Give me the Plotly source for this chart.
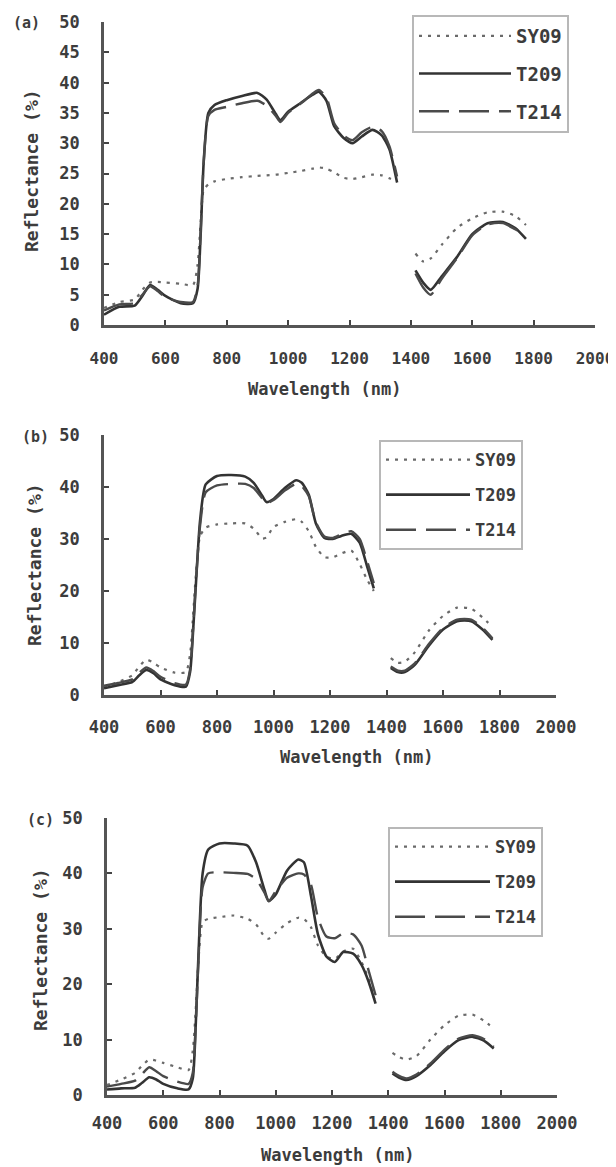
import plotly.graph_objects as go

# ---------------- data ----------------
WL_VNIR = [400, 450, 500, 525, 550, 575, 600, 650, 690, 705, 715, 725, 740, 760, 800, 850,
           900, 930, 960, 975, 1000, 1040, 1080, 1100, 1125, 1150, 1180, 1210, 1240, 1275,
           1305, 1330, 1355]
WL_SWIR = [1415, 1440, 1465, 1500, 1550, 1600, 1650, 1700, 1740, 1775]

SERIES = ["SY09", "T209", "T214"]

# panel (a)
SY09_A_VNIR = [2.8, 3.8, 4.2, 5.8, 7.0, 7.1, 7.0, 6.8, 6.6, 10.0, 17.0, 22.3, 23.2, 23.7, 24.1, 24.4,
               24.6, 24.7, 24.8, 24.9, 25.1, 25.4, 25.8, 26.0, 25.8, 25.2, 24.3, 24.1, 24.4, 24.8,
               24.7, 24.2, 23.6]
T209_A_VNIR = [1.7, 3.0, 3.2, 4.8, 6.6, 5.8, 4.8, 3.6, 3.6, 6.0, 15.0, 27.0, 35.0, 36.3, 37.1, 37.8,
               38.3, 37.2, 34.8, 33.8, 35.2, 36.6, 38.0, 38.5, 37.0, 32.8, 30.9, 30.0, 31.1, 32.2,
               31.3, 29.0, 23.5]
T214_A_VNIR = [2.4, 3.4, 3.6, 5.0, 6.4, 5.6, 4.6, 3.8, 3.8, 6.5, 15.5, 27.0, 34.5, 35.5, 36.0, 36.6,
               37.0, 36.2, 34.5, 33.5, 35.0, 36.5, 38.2, 38.8, 37.5, 33.3, 31.3, 30.5, 31.8, 32.7,
               32.0, 29.5, 24.5]
SY09_A_SWIR = [11.8, 10.5, 11.0, 13.2, 16.0, 17.6, 18.6, 18.7, 18.0, 16.5]
T209_A_SWIR = [9.0, 7.0, 5.8, 8.0, 11.2, 15.0, 16.8, 17.0, 16.0, 14.2]
T214_A_SWIR = [8.5, 6.2, 5.0, 7.6, 11.0, 14.8, 16.6, 16.8, 15.8, 14.8]

# panel (b)
SY09_B_VNIR = [1.5, 2.5, 3.8, 5.5, 6.8, 6.2, 5.3, 4.3, 4.4, 8.0, 15.0, 23.0, 30.5, 32.2, 32.8, 33.0,
               33.0, 32.0, 30.1, 30.3, 32.3, 33.3, 33.8, 33.3, 31.5, 28.5, 26.5, 26.5, 27.2, 27.8,
               25.2, 22.3, 20.0]
T209_B_VNIR = [1.3, 1.9, 2.5, 3.8, 4.8, 4.2, 3.0, 1.9, 1.6, 4.5, 12.0, 21.0, 33.5, 40.5, 42.1, 42.3,
               42.0, 40.8, 38.3, 37.1, 37.7, 39.8, 41.3, 40.8, 38.5, 33.0, 30.2, 30.0, 30.6, 31.0,
               29.3, 25.0, 20.5]
T214_B_VNIR = [1.8, 2.3, 3.0, 4.3, 5.3, 4.6, 3.5, 2.3, 2.0, 5.0, 12.5, 21.5, 32.5, 39.0, 40.3, 40.6,
               40.6, 39.8, 37.8, 36.9, 37.5, 39.3, 40.6, 40.2, 38.2, 33.2, 30.5, 30.2, 30.9, 31.5,
               30.0, 26.0, 21.5]
SY09_B_SWIR = [7.1, 6.2, 6.4, 8.2, 12.4, 15.2, 16.8, 16.6, 14.9, 13.1]
T209_B_SWIR = [5.2, 4.4, 4.4, 5.8, 9.5, 12.6, 14.2, 14.2, 12.6, 10.6]
T214_B_SWIR = [5.5, 4.7, 4.7, 6.1, 9.8, 12.9, 14.5, 14.5, 12.9, 10.9]

# panel (c)
SY09_C_VNIR = [1.8, 2.8, 4.0, 5.3, 6.4, 6.2, 5.8, 5.0, 4.5, 8.0, 15.0, 24.0, 31.2, 31.8, 32.1, 32.4,
               31.8, 30.8, 28.6, 28.2, 29.3, 31.0, 32.0, 31.8, 30.3, 27.0, 25.0, 24.6, 25.9, 26.4,
               24.0, 21.0, 16.5]
T209_C_VNIR = [1.0, 1.2, 1.3, 2.2, 3.2, 2.8, 2.0, 1.2, 1.0, 3.0, 12.0, 25.0, 40.0, 44.3, 45.4, 45.4,
               45.0, 42.0, 37.0, 35.0, 36.2, 40.5, 42.5, 42.0, 36.0, 29.0, 25.0, 24.0, 25.8, 25.5,
               23.5, 20.5, 16.5]
T214_C_VNIR = [1.5, 2.0, 2.6, 3.8, 5.0, 4.3, 3.4, 2.4, 2.0, 4.0, 12.0, 24.0, 37.5, 40.0, 40.2, 40.1,
               39.9, 39.0, 36.5, 35.0, 36.8, 39.2, 40.0, 39.8, 38.0, 32.0, 28.6, 28.3, 29.2, 29.0,
               27.0, 22.5, 18.0]
SY09_C_SWIR = [7.6, 6.8, 6.4, 7.0, 10.0, 12.6, 14.3, 14.5, 13.4, 12.0]
T209_C_SWIR = [3.9, 3.1, 2.7, 3.4, 5.4, 7.9, 9.9, 10.5, 9.8, 8.4]
T214_C_SWIR = [4.2, 3.4, 3.0, 3.7, 5.7, 8.2, 10.2, 10.8, 10.1, 8.7]

X_TICKS = [400, 600, 800, 1000, 1200, 1400, 1600, 1800, 2000]
PANEL_LABELS = ["(a)", "(b)", "(c)"]
X_TITLE = "Wavelength (nm)"
Y_TITLE = "Reflectance (%)"

PANEL_DATA = [
    {"SY09": (SY09_A_VNIR, SY09_A_SWIR), "T209": (T209_A_VNIR, T209_A_SWIR), "T214": (T214_A_VNIR, T214_A_SWIR)},
    {"SY09": (SY09_B_VNIR, SY09_B_SWIR), "T209": (T209_B_VNIR, T209_B_SWIR), "T214": (T214_B_VNIR, T214_B_SWIR)},
    {"SY09": (SY09_C_VNIR, SY09_C_SWIR), "T209": (T209_C_VNIR, T209_C_SWIR), "T214": (T214_C_VNIR, T214_C_SWIR)},
]

# ---------------- layout / style ----------------
PAGE_W, PAGE_H = 616, 1167
OFF = 8                      # default body margin of the html page
W, H = PAGE_W - OFF, PAGE_H - OFF
FONT = "DejaVu Sans Mono"
TXT = "#3c3c3c"


def fx(p):
    return (p - OFF) / W


def fy(p):
    return 1 - (p - OFF) / H


# everything below given in page pixels
AREAS = [(104, 595, 22, 325), (104, 556, 435, 695), (107, 557, 818, 1095)]
DTICKS = [5, 10, 10]
XSTANDOFF = [17, 15, 11]
XTICK_FS = [16, 17, 17]
LEGEND_POS = [(412, 15), (379, 440), (388, 827)]
LEGEND_ITEMW = [92, 84, 95]
LEGEND_FS = [19, 17, 17]
LEGEND_GAP = [10, 10, 10]
XTITLE_POS = [(325, 389), (357, 757), (338, 1155)]
YTITLE_POS = [(32, 171), (34, 565), (40, 950)]
LABEL_POS = [(26, 23), (35, 437), (40, 820)]

STYLE = {
    "SY09": dict(color="#6a6a6a", width=2.2, dash="3px,6px"),
    "T209": dict(color="#333333", width=2.6, dash="solid"),
    "T214": dict(color="#4a4a4a", width=2.4, dash="30px,10px"),
}

fig = go.Figure()
for i, pdata in enumerate(PANEL_DATA):
    sfx = "" if i == 0 else str(i + 1)
    for name in SERIES:
        vnir, swir = pdata[name]
        xs = WL_VNIR + [None] + WL_SWIR
        ys = vnir + [None] + swir
        fig.add_trace(go.Scatter(
            x=xs, y=ys, mode="lines", name=name,
            line=dict(shape="spline", smoothing=0.6, **STYLE[name]),
            connectgaps=False,
            xaxis="x" + sfx, yaxis="y" + sfx,
            legend="legend" + sfx, legendgroup=f"{name}{i}",
            showlegend=True,
        ))

layout = dict(
    width=W, height=H, autosize=False,
    margin=dict(l=0, r=0, t=0, b=0, pad=0),
    paper_bgcolor="white", plot_bgcolor="white",
    font=dict(family=FONT, color=TXT),
)

annotations = []
for i in range(3):
    sfx = "" if i == 0 else str(i + 1)
    l, r, t, b = AREAS[i]
    layout["xaxis" + sfx] = dict(
        domain=[fx(l), fx(r)], range=[400, 2000], tickvals=X_TICKS,
        showline=True, linecolor="#555555", linewidth=2.5,
        ticks="inside", ticklen=5, tickwidth=2, tickcolor="#444444",
        showgrid=False, zeroline=False,
        tickfont=dict(family=FONT, size=XTICK_FS[i], color=TXT, weight="bold"),
        anchor="y" + sfx, ticklabelstandoff=XSTANDOFF[i], automargin=False,
    )
    layout["yaxis" + sfx] = dict(
        domain=[fy(b), fy(t)], range=[0, 50], dtick=DTICKS[i], tick0=0,
        showline=True, linecolor="#555555", linewidth=2.5,
        ticks="inside", ticklen=5, tickwidth=2, tickcolor="#444444",
        showgrid=False, zeroline=False,
        tickfont=dict(family=FONT, size=17, color=TXT, weight="bold"),
        anchor="x" + sfx, ticklabelstandoff=18, automargin=False,
    )
    lx, ly = LEGEND_POS[i]
    layout["legend" + sfx] = dict(
        x=fx(lx), y=fy(ly), xanchor="left", yanchor="top",
        xref="paper", yref="paper",
        bordercolor="#b8b8b8", borderwidth=2, bgcolor="white",
        font=dict(family=FONT, size=LEGEND_FS[i], color=TXT, weight="bold"),
        itemwidth=LEGEND_ITEMW[i], tracegroupgap=LEGEND_GAP[i], traceorder="grouped",
    )
    ax, ay = XTITLE_POS[i]
    annotations.append(dict(x=fx(ax), y=fy(ay), xref="paper", yref="paper",
                            text=X_TITLE, showarrow=False, xanchor="center", yanchor="middle",
                            font=dict(family=FONT, size=17, color=TXT, weight="bold")))
    yx, yy = YTITLE_POS[i]
    annotations.append(dict(x=fx(yx), y=fy(yy), xref="paper", yref="paper",
                            text=Y_TITLE, showarrow=False, textangle=-90,
                            xanchor="center", yanchor="middle",
                            font=dict(family=FONT, size=18, color=TXT, weight="bold")))
    px_, py_ = LABEL_POS[i]
    annotations.append(dict(x=fx(px_), y=fy(py_), xref="paper", yref="paper",
                            text=PANEL_LABELS[i], showarrow=False,
                            xanchor="center", yanchor="middle",
                            font=dict(family=FONT, size=15, color=TXT, weight="bold")))

layout["annotations"] = annotations
fig.update_layout(**layout)
fig.write_html("out.html")
